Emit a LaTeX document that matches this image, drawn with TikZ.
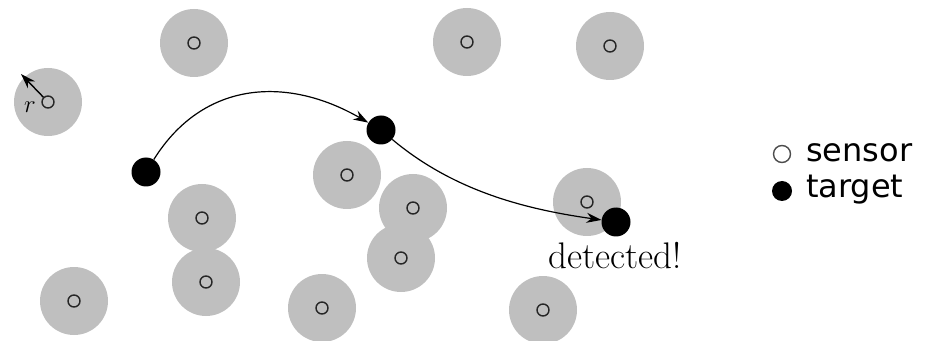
\documentclass[tikz,border=0pt]{standalone}
\usepackage{fontspec}
\setsansfont{DejaVu Sans}
\usetikzlibrary{arrows.meta}
\begin{document}
\begin{tikzpicture}[x=1pt,y=1pt,
  zone/.style={circle,fill=black!25,minimum size=68pt,inner sep=0pt},
  sensormark/.style={circle,draw=black!85,line width=1.4pt,minimum size=12pt,inner sep=0pt},
  targetmark/.style={circle,fill=black,minimum size=29pt,inner sep=0pt},
  legendsensor/.style={circle,draw=black!70,line width=1.4pt,fill=white,minimum size=17pt,inner sep=0pt},
  legendtarget/.style={circle,fill=black,minimum size=20pt,inner sep=0pt},
  move/.style={line width=1.2pt,-{Stealth[length=15pt,width=10pt]}},
  legendtext/.style={font=\fontsize{32}{36}\selectfont\sffamily,anchor=west,inner sep=0pt}
]
\useasboundingbox (0,0) rectangle (928,340);

% sensing ranges
\foreach \n/\x/\y in {1/194/297,2/467/298,3/610/294,4/48/238,5/347/165,6/202/122,
                      7/413/132,8/587/138,9/206/58,10/401/82,11/74/39,12/322/32,13/543/30}
  \node[zone] (z\n) at (\x,\y) {};

% sensors
\foreach \n in {1,...,13}
  \node[sensormark] (s\n) at (z\n) {};

% sensing radius
\coordinate (rtip) at (21,266);
\draw[line width=1.4pt,-{Stealth[length=15pt,width=10pt]}] (s4) -- (rtip);
\node[font=\fontsize{40}{44}\selectfont,inner sep=0pt] (rlab) at (30,233) {$r$};

% targets
\node[targetmark] (t1) at (146,168) {};
\node[targetmark] (t2) at (381,210) {};
\node[targetmark] (t3) at (616,118) {};

% target trajectory
\draw[move] (t1) to[out=58,in=150,looseness=1.1] (t2);
\draw[move] (t2) to[out=-40,in=172,looseness=0.9] (t3);

\node[font=\fontsize{37}{42}\selectfont,inner sep=0pt] (det) at (615,84) {detected!};

% legend
\node[legendsensor] (ls) at (782,186) {};
\node[legendtarget] (lt) at (782,149) {};
\node[legendtext] (lstext) at (806,187) {sensor};
\node[legendtext] (lttext) at (806,150) {target};
\end{tikzpicture}
\end{document}
